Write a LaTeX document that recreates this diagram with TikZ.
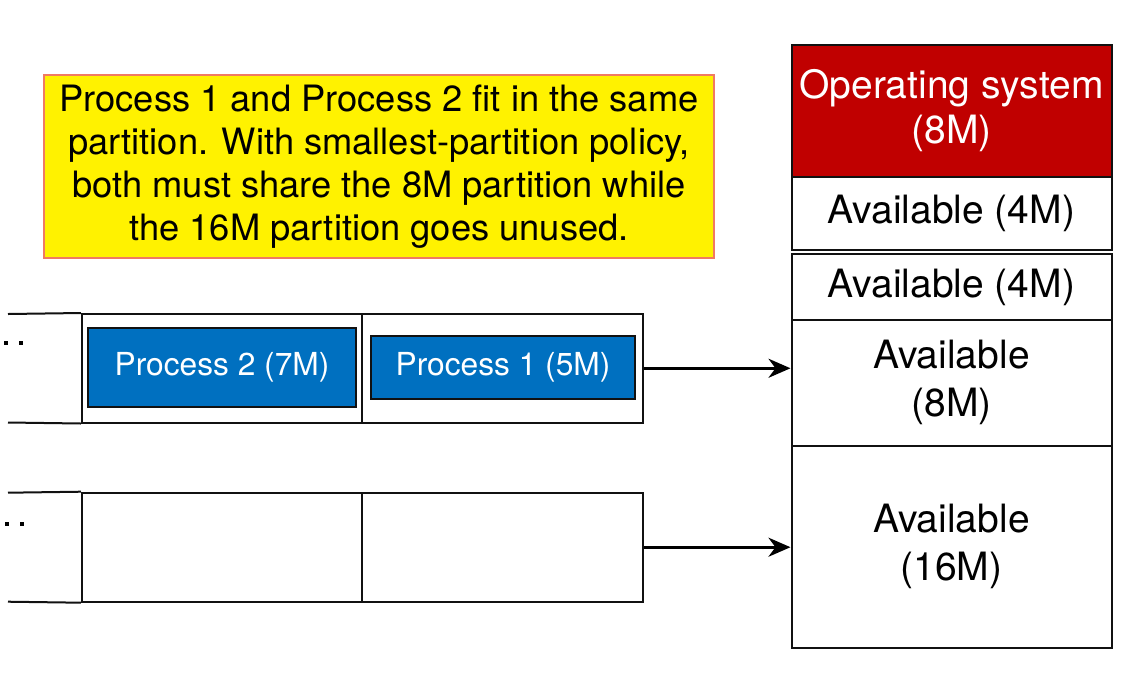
\documentclass[tikz,border=0pt]{standalone}
\usepackage{fontspec}
\setmainfont{TeX Gyre Heros}
\usetikzlibrary{arrows.meta}
\definecolor{osred}{HTML}{C00000}
\definecolor{pblue}{HTML}{0070C0}
\definecolor{ybord}{HTML}{F07A62}
\definecolor{edge}{HTML}{111111}
\tikzset{
  memcell/.style={draw=edge, line width=2pt, minimum width=320pt, inner sep=0pt, align=center,
    font=\fontsize{39}{48}\selectfont},
  qcell/.style={draw=edge, line width=2pt, inner sep=0pt},
  procbox/.style={draw=edge, fill=pblue, line width=2pt, inner sep=0pt, text=white,
    font=\fontsize{31.7}{36}\selectfont},
  qline/.style={draw=edge, line width=2pt},
  arr/.style={draw=black, line width=3pt, -{Stealth[length=22pt,width=19pt,inset=7pt]}},
  dot/.style={fill=black}
}
\begin{document}
\begin{tikzpicture}[x=1pt,y=-1pt]
\useasboundingbox (0,0) rectangle (1132,681);

% note
\node[draw=ybord, fill=yellow, line width=1.2pt, minimum width=670pt, minimum height=183pt,
  inner sep=0pt, align=center, font=\fontsize{36.3}{43}\selectfont] (note) at (379,166.5)
  {Process 1 and Process 2 fit in the same\\partition. With smallest-partition policy,\\both must share the 8M partition while\\the 16M partition goes unused.};

% memory column
\node[memcell, fill=osred, text=white, minimum height=132pt, font=\fontsize{39}{45}\selectfont] (os) at (951.5,111) {Operating system\\(8M)};
\node[memcell, minimum height=73pt] (m4a) at (951.5,213.5) {Available (4M)};
\node[memcell, minimum height=66pt] (m4b) at (951.5,287) {Available (4M)};
\node[memcell, minimum height=125.5pt] (m8) at (951.5,382.75) {Available\\(8M)};
\node[memcell, minimum height=202.5pt] (m16) at (951.5,546.75) {Available\\(16M)};

% queue 1
\node[qcell, minimum width=280pt, minimum height=108.5pt] (q1a) at (222,368.25) {};
\node[qcell, minimum width=281pt, minimum height=108.5pt] (q1b) at (502.5,368.25) {};
\coordinate (q1tl) at (8,314);
\coordinate (q1bl) at (8,422.5);
\draw[qline] (q1tl) -- (q1a.north west);
\draw[qline] (q1bl) -- (q1a.south west);
\fill[dot] (3.5,340.5) rectangle (7.5,344.5);
\fill[dot] (18.5,340.5) rectangle (22.5,344.5);

\node[procbox, minimum width=268pt, minimum height=79pt] (p2) at (222,367.5) {Process 2 (7M)};
\node[procbox, minimum width=264pt, minimum height=63pt] (p1) at (503,367.5) {Process 1 (5M)};

% queue 2
\node[qcell, minimum width=280pt, minimum height=109pt] (q2a) at (222,547.2) {};
\node[qcell, minimum width=281pt, minimum height=109pt] (q2b) at (502.5,547.2) {};
\coordinate (q2tl) at (8,492.7);
\coordinate (q2bl) at (8,601.7);
\draw[qline] (q2tl) -- (q2a.north west);
\draw[qline] (q2bl) -- (q2a.south west);
\fill[dot] (5,522) rectangle (9,526);
\fill[dot] (20,522) rectangle (24,526);

% arrows
\draw[arr] (q1b.east) -- (q1b.east -| m8.west);
\draw[arr] (q2b.east) -- (q2b.east -| m16.west);
\end{tikzpicture}
\end{document}
